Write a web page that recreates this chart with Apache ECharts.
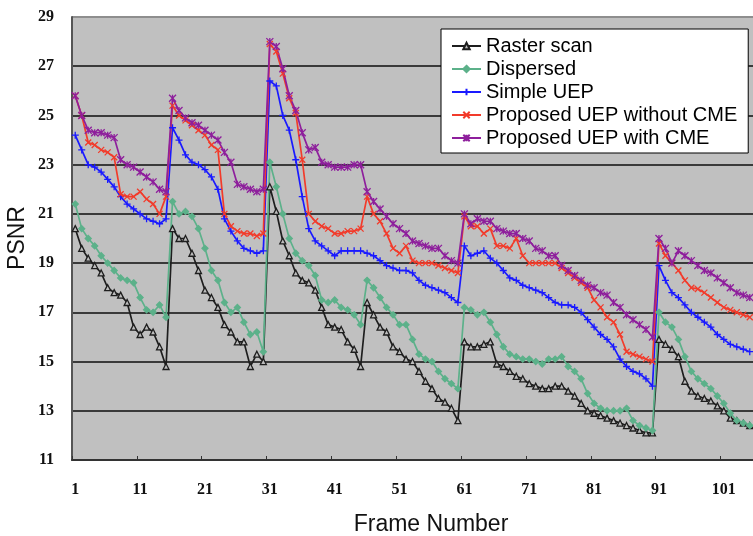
<!DOCTYPE html>
<html>
<head>
<meta charset="utf-8">
<script src="https://cdn.jsdelivr.net/npm/echarts@6/dist/echarts.min.js"></script>
<style>
  html, body { margin: 0; padding: 0; background: #fff; }
  #chart { width: 753px; height: 536px; }
</style>
</head>
<body>
<div id="chart"></div>
<script>
// Frame indices shown on the category axis
const frames = Array.from({ length: 105 }, (_, i) => String(i + 1));

// PSNR (dB) per frame for each scheme
const rasterScan = [
  20.4, 19.6, 19.2, 18.9, 18.6, 18.0, 17.8, 17.7, 17.4, 16.4, 16.1, 16.4, 16.2, 15.6, 14.8,
  20.4, 20.0, 20.0, 19.4, 18.7, 17.9, 17.6, 17.2, 16.5, 16.2, 15.8, 15.8, 14.8, 15.3, 15.0,
  22.1, 21.1, 19.9, 19.3, 18.6, 18.3, 18.2, 17.9, 17.2, 16.5, 16.4, 16.3, 15.8, 15.5, 14.8,
  17.4, 16.9, 16.4, 16.2, 15.6, 15.4, 15.1, 15.0, 14.6, 14.2, 13.9, 13.5, 13.35, 13.1, 12.6,
  15.8, 15.6, 15.6, 15.7, 15.8, 14.9, 14.8, 14.6, 14.4, 14.3, 14.1, 14.0, 13.9, 13.9, 14.0,
  14.0, 13.8, 13.6, 13.3, 13.0, 12.9, 12.8, 12.7, 12.6, 12.5, 12.4, 12.3, 12.2, 12.1, 12.1,
  15.9, 15.7, 15.5, 15.2, 14.2, 13.8, 13.6, 13.5, 13.4, 13.2, 13.0, 12.7, 12.6, 12.5, 12.4
];
const dispersed = [
  21.4, 20.4, 20.0, 19.7, 19.3, 19.0, 18.7, 18.4, 18.3, 18.2, 17.6, 17.1, 17.0, 17.3, 16.8,
  21.5, 21.0, 21.1, 20.9, 20.4, 19.6, 18.7, 18.3, 17.4, 17.0, 17.2, 16.6, 16.1, 16.2, 15.4,
  23.1, 22.1, 21.0, 20.0, 19.4, 19.1, 18.9, 18.5, 17.5, 17.4, 17.5, 17.2, 17.1, 16.9, 16.5,
  18.3, 18.0, 17.6, 17.2, 16.9, 16.5, 16.5, 15.9, 15.3, 15.1, 15.0, 14.6, 14.3, 14.1, 13.9,
  17.2, 17.1, 16.9, 17.0, 16.6, 16.1, 15.6, 15.3, 15.2, 15.1, 15.1, 15.0, 14.9, 15.1, 15.1,
  15.2, 14.8, 14.6, 14.3, 13.7, 13.3, 13.1, 13.0, 13.0, 13.0, 13.1, 12.6, 12.4, 12.3, 12.2,
  17.0, 16.6, 16.4, 15.9, 15.2, 14.6, 14.3, 14.1, 13.9, 13.6, 13.3, 12.9, 12.6, 12.5, 12.4
];
const simpleUEP = [
  24.2, 23.6, 23.0, 22.9, 22.7, 22.4, 22.1, 21.7, 21.4, 21.2, 21.0, 20.8, 20.7, 20.6, 20.8,
  24.5, 24.0, 23.4, 23.1, 23.0, 22.8, 22.5, 22.0, 20.8, 20.3, 19.9, 19.6, 19.5, 19.4, 19.5,
  26.4, 26.2, 25.0, 24.4, 23.2, 21.7, 20.4, 19.9, 19.7, 19.5, 19.3, 19.5, 19.5, 19.5, 19.5,
  19.4, 19.3, 19.1, 18.9, 18.8, 18.7, 18.7, 18.6, 18.3, 18.1, 18.0, 17.9, 17.8, 17.6, 17.4,
  19.7, 19.3, 19.4, 19.5, 19.2, 19.0, 18.7, 18.4, 18.3, 18.1, 18.0, 17.9, 17.8, 17.6, 17.4,
  17.3, 17.3, 17.2, 17.0, 16.7, 16.4, 16.1, 15.9, 15.6, 15.1, 14.8, 14.6, 14.5, 14.3, 14.0,
  18.9, 18.3, 17.8, 17.6, 17.3, 17.0, 16.8, 16.6, 16.4, 16.1, 15.9, 15.7, 15.6, 15.5, 15.4
];
const uepWithoutCME = [
  25.8, 25.0, 23.9, 23.8, 23.6, 23.5, 23.3, 21.8, 21.7, 21.7, 21.9, 21.6, 21.4, 21.0, 21.7,
  25.4, 25.0, 24.8, 24.6, 24.4, 24.2, 23.8, 23.6, 21.0, 20.5, 20.3, 20.2, 20.2, 20.1, 20.2,
  27.9, 27.6, 26.7, 25.7, 25.1, 23.2, 21.0, 20.7, 20.5, 20.4, 20.2, 20.2, 20.3, 20.3, 20.4,
  21.7, 21.0, 20.7, 20.2, 19.6, 19.4, 19.7, 19.1, 19.0, 19.0, 19.0, 18.9, 18.8, 18.7, 18.6,
  20.9, 20.5, 20.5, 20.2, 20.4, 19.7, 19.7, 19.6, 20.0, 19.3, 19.0, 19.0, 19.0, 19.0, 19.0,
  18.8, 18.6, 18.4, 18.2, 18.0, 17.5, 17.2, 16.8, 16.6, 16.1, 15.4, 15.3, 15.2, 15.1, 15.0,
  19.8, 19.3, 19.0, 18.7, 18.3, 18.0, 17.95, 17.8, 17.6, 17.4, 17.2, 17.1, 17.0, 16.9, 16.8
];
const uepWithCME = [
  25.8, 25.0, 24.4, 24.3, 24.3, 24.2, 24.1, 23.2, 23.0, 22.9, 22.7, 22.5, 22.3, 22.0, 21.9,
  25.7, 25.2, 24.9, 24.7, 24.6, 24.4, 24.2, 24.0, 23.5, 23.1, 22.2, 22.1, 22.0, 21.9, 22.0,
  28.0, 27.8, 26.9, 25.8, 25.2, 24.3, 23.6, 23.7, 23.1, 23.0, 22.9, 22.9, 22.9, 23.0, 23.0,
  21.9, 21.5, 21.2, 20.9, 20.6, 20.4, 20.2, 19.9, 19.8, 19.7, 19.6, 19.6, 19.3, 19.1, 19.0,
  21.0, 20.6, 20.8, 20.7, 20.7, 20.4, 20.3, 20.2, 20.2, 20.0, 19.9, 19.6, 19.5, 19.3, 19.3,
  18.9, 18.7, 18.5, 18.3, 18.1, 18.0, 17.8, 17.7, 17.4, 17.2, 16.9, 16.7, 16.5, 16.3, 16.0,
  20.0, 19.6, 19.0, 19.5, 19.3, 19.1, 18.9, 18.7, 18.6, 18.4, 18.2, 18.0, 17.8, 17.7, 17.6
];

const seriesNames = ['Raster scan', 'Dispersed', 'Simple UEP',
  'Proposed UEP without CME', 'Proposed UEP with CME'];

// Marker glyphs: plus, cross, asterisk
const plusPath = 'path://M0,5L10,5M5,0L5,10';
const crossPath = 'path://M0,0L10,10M10,0L0,10';
const starPath = 'path://M0,0L10,10M10,0L0,10M5,0L5,10';

function lineSeries(name, data, lineColor, symbol, fill, size) {
  return {
    name: name,
    type: 'line',
    data: data,
    symbol: symbol,
    symbolSize: size,
    showSymbol: true,
    showAllSymbol: true,
    lineStyle: { color: lineColor, width: 1.7 },
    itemStyle: { color: fill, borderColor: lineColor, borderWidth: 1.3 },
    emphasis: { disabled: true }
  };
}

const chart = echarts.init(document.getElementById('chart'), null, { renderer: 'canvas' });

const showEvery10 = (index) => index % 10 === 0;
const gridColors = ['#3a3a3a', '#3a3a3a', '#3a3a3a', '#3a3a3a', '#3a3a3a',
  '#3a3a3a', '#3a3a3a', '#3a3a3a', '#3a3a3a', '#8e8e8e'];

chart.setOption({
  animation: false,
  backgroundColor: '#ffffff',
  grid: {
    left: 72, top: 17, bottom: 76, right: -18,
    show: true, backgroundColor: '#c0c0c0', borderWidth: 0
  },
  xAxis: {
    type: 'category',
    data: frames,
    boundaryGap: true,
    axisLine: { lineStyle: { color: '#333', width: 2 } },
    axisTick: { show: true, inside: true, length: 4, interval: showEvery10,
      lineStyle: { color: '#333', width: 1 } },
    axisLabel: {
      interval: showEvery10, margin: 22,
      fontFamily: 'Liberation Serif', fontWeight: 'bold', fontSize: 16, color: '#111'
    },
    splitLine: { show: false }
  },
  yAxis: {
    type: 'value',
    min: 11, max: 29, interval: 2,
    axisLine: { show: true, lineStyle: { color: '#555', width: 2 } },
    axisTick: { show: false },
    axisLabel: {
      margin: 18, padding: [5, 0, 0, 0],
      fontFamily: 'Liberation Serif', fontWeight: 'bold', fontSize: 16, color: '#111'
    },
    splitLine: { show: true, lineStyle: { color: gridColors, width: 2 } }
  },
  legend: {
    data: seriesNames,
    orient: 'vertical',
    left: 441, top: 29,
    padding: [7, 11, 5, 10],
    itemGap: 3,
    itemWidth: 29,
    itemHeight: 8,
    backgroundColor: '#ffffff',
    borderColor: '#000',
    borderWidth: 1,
    borderRadius: 0,
    textStyle: { fontFamily: 'Liberation Sans', fontSize: 20, color: '#000', lineHeight: 20 }
  },
  graphic: [
    {
      type: 'text', x: 431, y: 525,
      style: { text: 'Frame Number', font: '23px "Liberation Sans"', fill: '#111',
        align: 'center', verticalAlign: 'middle' }
    },
    {
      type: 'text', x: 18, y: 238, rotation: Math.PI / 2,
      style: { text: 'PSNR', font: '23px "Liberation Sans"', fill: '#111',
        align: 'center', verticalAlign: 'middle' }
    }
  ],
  series: [
    lineSeries(seriesNames[0], rasterScan, '#1e1e1e', 'triangle', '#bdbdbd', 6),
    lineSeries(seriesNames[1], dispersed, '#5cb18a', 'diamond', '#5cb18a', 6),
    lineSeries(seriesNames[2], simpleUEP, '#1a1aff', plusPath, '#1a1aff', 7),
    lineSeries(seriesNames[3], uepWithoutCME, '#f23b2b', crossPath, '#f23b2b', 6),
    lineSeries(seriesNames[4], uepWithCME, '#8e1f9c', starPath, '#8e1f9c', 7)
  ]
});
</script>
</body>
</html>
